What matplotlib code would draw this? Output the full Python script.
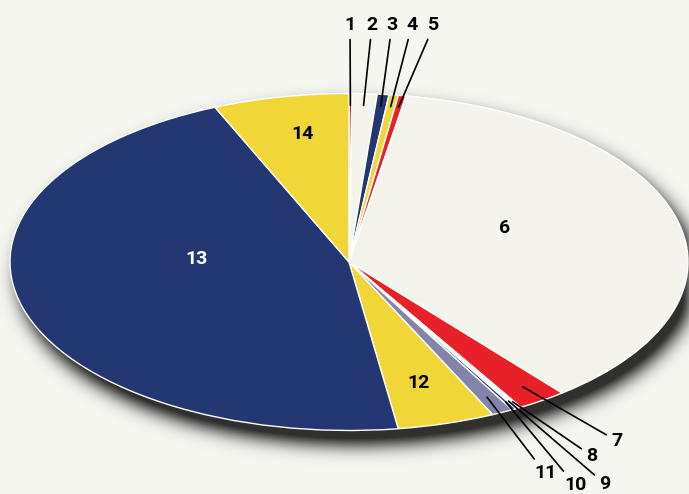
import numpy as np
import matplotlib
matplotlib.use('Agg')
import matplotlib.pyplot as plt

# slice values (share of the whole, %), clockwise from 12 o'clock
labels = ['1', '2', '3', '4', '5', '6', '7', '8', '9', '10', '11', '12', '13', '14']
shares = [0.14, 1.19, 0.56, 0.44, 0.36, 36.5, 2.36, 0.14, 0.14, 0.19, 1.03, 4.64, 45.86, 6.47]

red = '#e82129'
white = '#f4f3ec'
navy = '#233873'
yellow = '#f0d637'
lavender = '#8285a9'
slice_colors = [red, white, navy, yellow, red, white, red, white, white, navy,
                lavender, yellow, navy, yellow]

bg = '#f5f6f0'
W, H = 689, 494
cx, cy, a, b = 349.0, 262.0, 339.0, 168.5   # ellipse in pixels


def to_data(px, py):
    return (px - cx) / a, (cy - py) / b


fig = plt.figure(figsize=(W / 100, H / 100), dpi=100, facecolor=bg)
ax = fig.add_axes([0, 0, 1, 1])
ax.set_facecolor(bg)

# soft drop shadow
yy, xx = np.mgrid[0:H, 0:W]
mask = (((xx - cx - 8) / a) ** 2 + ((yy - cy - 13) / b) ** 2 <= 1).astype(float)
sig = 9.0
k = np.arange(-30, 31)
kern = np.exp(-k ** 2 / (2 * sig ** 2))
kern /= kern.sum()
blur = np.array([np.convolve(r, kern, mode='same') for r in mask])
blur = np.array([np.convolve(c, kern, mode='same') for c in blur.T]).T
shadow = np.zeros((H, W, 4))
shadow[..., :3] = 0.12
shadow[..., 3] = np.clip(blur * 1.25, 0, 0.92)
x0, y1 = to_data(0, 0)
x1, y0 = to_data(W, H)
ax.imshow(shadow, extent=[x0, x1, y0, y1], origin='upper', zorder=0,
          interpolation='bilinear')

wedges, _ = ax.pie(shares, colors=slice_colors, startangle=90, counterclock=False,
                   radius=1, wedgeprops=dict(edgecolor='white', linewidth=1.0))
for w in wedges:
    w.set_zorder(2)

ax.set_aspect('auto')
ax.set_xlim(x0, x1)
ax.set_ylim(y0, y1)
ax.axis('off')

font = dict(family=['Roboto', 'DejaVu Sans'], fontweight='bold', fontsize=14)

# labels inside the big slices
inside = {'6': (505, 228), '12': (418, 383), '13': (197, 259), '14': (303, 134)}
for lab, (px, py) in inside.items():
    tx, ty = to_data(px, py)
    col = 'white' if lab == '13' else 'black'
    ax.text(tx, ty, lab, ha='center', va='center', color=col, zorder=5, **font)

# labels outside with leader lines
outside = {'1': (350, 25, 0.93), '2': (372, 25, 0.93), '3': (392, 25, 0.93),
           '4': (412, 25, 0.93), '5': (434, 25, 0.93),
           '7': (617, 441, 0.9), '8': (592, 456, 0.96), '9': (605, 484, 0.95),
           '10': (575, 485, 0.95), '11': (545, 473, 0.9)}
for w, lab in zip(wedges, labels):
    if lab not in outside:
        continue
    px, py, r = outside[lab]
    mid = np.deg2rad((w.theta1 + w.theta2) / 2)
    ax.annotate(lab, xy=(r * np.cos(mid), r * np.sin(mid)), xytext=to_data(px, py),
                ha='center', va='center', zorder=6,
                arrowprops=dict(arrowstyle='-', color='black', lw=1.2,
                                shrinkA=2, shrinkB=0), **font)

fig.savefig('out.png', dpi=100, facecolor=bg)
